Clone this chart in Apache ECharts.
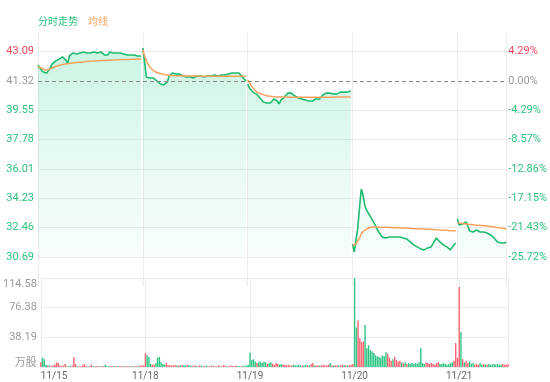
<!DOCTYPE html>
<html><head><meta charset="utf-8">
<script src="https://cdn.jsdelivr.net/npm/echarts@6/dist/echarts.min.js"></script>
<style>html,body{margin:0;padding:0;background:#fff}#c{width:550px;height:382px}</style>
</head><body><div id="c"></div>
<script>
// ---------------- data ----------------
const days = ['11/15', '11/18', '11/19', '11/20', '11/21'];
const prevClose = 41.32;
const priceTickLabels = ['30.69', '32.46', '34.23', '36.01', '37.78', '39.55', '41.32', '43.09'];
const pctTickLabels = ['-25.72%', '-21.43%', '-17.15%', '-12.86%', '-8.57%', '-4.29%', '0.00%', '4.29%'];
const volTickLabels = ['万股', '38.19', '76.38', '114.58'];

const price1115 = [42.27,42.09,41.97,41.85,41.85,41.79,41.91,42.09,42.33,42.45,
  42.51,42.57,42.63,42.69,42.76,42.82,42.57,42.39,42.82,42.94,
  43.00,42.88,42.94,42.94,43.00,43.00,43.06,42.94,43.00,43.06,
  43.00,43.06,43.06,43.06,43.00,43.00,43.06,42.94,42.88,42.76,
  42.88,43.06,43.00,43.00,42.94,43.00,43.00,43.00,42.94,42.94,
  42.94,42.88,42.94,42.88,42.88,42.88,42.82,42.82,42.82,42.82];
const price1118 = [43.30,42.45,41.55,41.43,41.49,41.55,41.49,41.43,41.31,41.19,
  41.13,41.07,41.07,41.13,41.25,41.61,41.73,41.79,41.73,41.73,
  41.67,41.73,41.67,41.61,41.61,41.55,41.49,41.55,41.55,41.49,
  41.55,41.61,41.55,41.61,41.61,41.55,41.61,41.61,41.67,41.61,
  41.61,41.67,41.67,41.61,41.67,41.67,41.73,41.67,41.67,41.73,
  41.73,41.79,41.85,41.79,41.73,41.79,41.67,41.55,41.43,41.31];
const price1119 = [41.13,40.89,40.77,40.64,40.70,40.52,40.40,40.28,40.16,40.04,
  40.10,39.98,39.92,39.98,40.10,40.22,40.28,40.10,39.92,40.16,
  40.28,40.34,40.46,40.58,40.64,40.58,40.46,40.40,40.34,40.28,
  40.28,40.22,40.16,40.16,40.10,40.10,40.16,40.10,40.16,40.22,
  40.16,40.22,40.34,40.46,40.52,40.58,40.52,40.58,40.46,40.52,
  40.58,40.52,40.58,40.64,40.58,40.64,40.58,40.64,40.70,40.70];
const price1120 = [31.48,30.99,31.72,32.44,33.65,34.79,34.43,33.83,33.53,33.35,
  33.23,32.99,32.80,32.62,32.38,32.20,32.08,31.90,31.84,31.84,
  31.90,31.90,31.84,31.90,31.90,31.90,31.96,31.90,31.90,31.84,
  31.84,31.78,31.72,31.60,31.48,31.42,31.36,31.30,31.24,31.18,
  31.12,31.12,31.18,31.24,31.24,31.30,31.42,31.66,31.84,31.72,
  31.60,31.48,31.42,31.36,31.30,31.18,31.12,31.24,31.42,31.54];
const price1121 = [32.99,32.62,32.74,32.68,32.68,32.80,32.56,32.26,32.20,32.20,
  32.26,32.32,32.26,32.20,32.26,32.20,32.20,32.14,32.08,32.02,
  31.90,31.84,31.72,31.60,31.54,31.54,31.54,31.54,31.60];

const avg1115 = [42.15,42.12,42.09,42.03,41.97,41.98,42.00,42.05,42.09,42.14,
  42.18,42.21,42.24,42.27,42.30,42.32,42.33,42.35,42.36,42.38,
  42.39,42.40,42.42,42.43,42.44,42.45,42.46,42.47,42.48,42.49,
  42.50,42.51,42.51,42.52,42.53,42.53,42.54,42.54,42.55,42.55,
  42.56,42.56,42.57,42.57,42.58,42.59,42.59,42.59,42.60,42.60,
  42.60,42.61,42.61,42.61,42.62,42.62,42.62,42.63,42.63,42.63];
const avg1118 = [43.18,42.82,42.51,42.33,42.15,42.03,41.94,41.88,41.82,41.79,
  41.76,41.73,41.70,41.67,41.67,41.65,41.64,41.64,41.63,41.63,
  41.62,41.62,41.62,41.62,41.61,41.61,41.61,41.61,41.61,41.61,
  41.61,41.61,41.61,41.60,41.60,41.60,41.60,41.60,41.60,41.60,
  41.60,41.60,41.60,41.60,41.60,41.59,41.59,41.59,41.59,41.59,
  41.59,41.59,41.59,41.59,41.59,41.59,41.59,41.59,41.59,41.59];
const avg1119 = [41.37,41.19,41.04,40.89,40.77,40.67,40.61,40.55,40.51,40.48,
  40.45,40.42,40.40,40.39,40.37,40.36,40.36,40.35,40.35,40.34,
  40.34,40.34,40.34,40.34,40.34,40.33,40.33,40.33,40.33,40.33,
  40.33,40.33,40.33,40.33,40.33,40.33,40.33,40.33,40.33,40.33,
  40.33,40.33,40.33,40.33,40.33,40.33,40.33,40.33,40.34,40.34,
  40.34,40.34,40.34,40.34,40.34,40.34,40.34,40.34,40.34,40.34];
const avg1120 = [31.42,31.30,31.48,31.66,31.84,32.08,32.23,32.32,32.38,32.44,
  32.47,32.50,32.50,32.50,32.50,32.49,32.49,32.49,32.48,32.48,
  32.48,32.48,32.47,32.47,32.46,32.46,32.45,32.45,32.44,32.44,
  32.44,32.43,32.43,32.42,32.41,32.41,32.40,32.40,32.39,32.38,
  32.38,32.37,32.37,32.36,32.36,32.35,32.35,32.34,32.33,32.33,
  32.32,32.32,32.31,32.31,32.30,32.29,32.28,32.27,32.27,32.26];
const avg1121 = [32.74,32.73,32.72,32.71,32.70,32.68,32.67,32.66,32.65,32.64,
  32.62,32.61,32.61,32.60,32.59,32.58,32.57,32.56,32.55,32.54,
  32.52,32.51,32.49,32.48,32.46,32.44,32.42,32.40,32.38];

const vol1115 = [6,12,10,3,2,2,1,2,3,6, 5,2,1,2,4,1,1,1,2,13,
  4,1,1,1,2,4,1,1,1,3, 1,1,1,1,1,1,1,3,1,1,
  1,1,1,1,1,1,1,1,1,1, 1,1,1,1,1,1,1,2,2,2];
const vol1118 = [18,15,13,4,3,3,5,12,13,6, 4,3,5,3,2,2,2,3,2,2,
  2,3,2,2,3,2,2,1,2,2, 1,2,2,1,1,2,1,1,2,1,
  1,1,2,1,1,3,1,1,1,2, 1,1,2,1,1,1,2,1,2,3];
const vol1119 = [18,9,10,7,5,6,7,5,7,6, 4,5,6,4,3,5,4,3,4,3,
  3,2,3,2,2,3,2,2,3,2, 2,2,3,2,2,4,5,2,2,2,
  2,2,3,2,2,3,5,2,2,2, 2,2,2,3,2,2,2,2,3,4];
const vol1120 = [114.58,51,60,37,32,33,54,24,28,22, 20,18,15,14,13,12,15,14,19,17,
  12,8,10,13,9,7,8,6,5,6, 4,5,4,5,4,5,4,6,24,5,
  4,6,5,4,5,4,3,5,6,4, 4,5,4,3,4,5,6,8,31,12];
const vol1121 = [103,45,10,6,8,5,7,4,5,3, 4,3,5,3,4,3,3,4,3,3,
  4,3,4,3,3,4,3,3,4];

// ---------------- build ----------------
const priceDays = [price1115, price1118, price1119, price1120, price1121];
const avgDays = [avg1115, avg1118, avg1119, avg1120, avg1121];
const volDays = [vol1115, vol1118, vol1119, vol1120, vol1121];

const categories = [];
const dayStart = [];
priceDays.forEach((arr, k) => {
  dayStart.push(categories.length);
  arr.forEach((_, j) => categories.push(days[k] + ' ' + j));
});
const N = categories.length;
const allPrice = [].concat(...priceDays);
const allVol = [].concat(...volDays);
const toPct = p => (p / prevClose - 1) * 100;

function dayData(arrs, k) {
  const out = new Array(N).fill(null);
  arrs[k].forEach((v, j) => { out[dayStart[k] + j] = toPct(v); });
  return out;
}

const GREEN_LINE = '#1dba6f';
const ORANGE = '#f6a25c';
const RED_TXT = '#f2495c';
const GREEN_TXT = '#2ec27e';
const GRAY_TXT = '#9a9a9a';
const GRID_LINE = '#ececec';
const CLEAR = 'rgba(0,0,0,0)';

const STEP = 30 / 7;            // one label step, in percent
const PCT_MIN = -7 * STEP;      // multiple of STEP (ticks counted from min)
const PCT_MAX = 6.98;
function pctIndex(v) {
  const k = Math.round(v / STEP);
  return Math.abs(v - k * STEP) < 1e-3 ? k + 6 : -1;
}
const pctColor = v => Math.abs(v) < 1e-6 ? GRAY_TXT : (v > 0 ? RED_TXT : GREEN_TXT);
const VSTEP = 114.58 / 3;

const chart = echarts.init(document.getElementById('c'), null, { renderer: 'canvas' });

const series = [];
priceDays.forEach((_, k) => {
  series.push({
    name: '分时走势', type: 'line', xAxisIndex: 0, yAxisIndex: 0,
    data: dayData(priceDays, k), showSymbol: false, symbol: 'none',
    connectNulls: false, z: 3,
    lineStyle: { color: GREEN_LINE, width: 1.6 },
    itemStyle: { color: GREEN_LINE },
    areaStyle: {
      origin: -6 * STEP,
      color: new echarts.graphic.LinearGradient(0, 33, 0, 257, [
        { offset: 0, color: 'rgba(46,214,140,0.38)' },
        { offset: 0.6, color: 'rgba(46,214,140,0.16)' },
        { offset: 1, color: 'rgba(46,214,140,0.05)' }
      ], true)
    },
    markLine: k === 0 ? {
      silent: true, symbol: 'none', label: { show: false },
      lineStyle: { color: '#8a8a8a', type: [4, 3], width: 1 },
      data: [{ yAxis: 0 }]
    } : undefined
  });
});
avgDays.forEach((_, k) => {
  series.push({
    name: '均线', type: 'line', xAxisIndex: 0, yAxisIndex: 0,
    data: dayData(avgDays, k), showSymbol: false, symbol: 'none', z: 4,
    lineStyle: { color: ORANGE, width: 1.5 },
    itemStyle: { color: ORANGE }
  });
});
series.push({
  name: '成交量', type: 'bar', xAxisIndex: 1, yAxisIndex: 2,
  barWidth: 1.4,
  data: allVol.map((v, i) => ({
    value: v,
    itemStyle: { color: (i === 0 || allPrice[i] >= allPrice[i - 1]) ? '#f7646f' : '#2ec584' }
  }))
});

const splitInterval = (i) => dayStart.indexOf(i) >= 0 || i === N - 1;
// ticks: -30, -25.71, ..., 0 (dashed markLine instead), 4.29, max
const priceSplitColors = [CLEAR, GRID_LINE, GRID_LINE, GRID_LINE, GRID_LINE, GRID_LINE, GRID_LINE, CLEAR, GRID_LINE, CLEAR];

chart.setOption({
  animation: false,
  textStyle: { fontFamily: 'Roboto, "Noto Sans CJK SC", sans-serif' },
  legend: {
    left: 33, top: 18, padding: 0, icon: 'none', itemWidth: 0, itemHeight: 0, itemGap: 5,
    textStyle: { fontSize: 10 },
    data: [
      { name: '分时走势', textStyle: { color: GREEN_TXT } },
      { name: '均线', textStyle: { color: ORANGE } }
    ],
    selectedMode: false
  },
  grid: [
    { left: 38, right: 42, top: 33, height: 253.3 },
    { left: 38, right: 42, top: 278, height: 89 }
  ],
  xAxis: [
    {
      type: 'category', gridIndex: 0, data: categories, boundaryGap: false,
      axisLine: { show: false }, axisTick: { show: false }, axisLabel: { show: false },
      splitLine: { show: true, interval: splitInterval, lineStyle: { color: GRID_LINE, width: 1 } }
    },
    {
      type: 'category', gridIndex: 1, data: categories, boundaryGap: false,
      axisLine: { show: false }, axisTick: { show: false },
      axisLabel: {
        show: true, interval: (i) => dayStart.indexOf(i) >= 0,
        formatter: (v) => v.split(' ')[0],
        fontSize: 10, color: '#666', margin: 4, alignMinLabel: 'left'
      },
      splitLine: { show: true, interval: splitInterval, lineStyle: { color: GRID_LINE, width: 1 } }
    }
  ],
  yAxis: [
    {
      type: 'value', gridIndex: 0, position: 'left',
      min: PCT_MIN, max: PCT_MAX, interval: STEP,
      axisLine: { show: false }, axisTick: { show: false },
      axisLabel: {
        fontSize: 11, margin: 4,
        formatter: (v) => { const i = pctIndex(v); return i >= 0 && i < priceTickLabels.length ? priceTickLabels[i] : ''; },
        color: (v) => pctColor(v)
      },
      splitLine: { show: true, lineStyle: { color: priceSplitColors, width: 1 } }
    },
    {
      type: 'value', gridIndex: 0, position: 'right',
      min: PCT_MIN, max: PCT_MAX, interval: STEP,
      axisLine: { show: false }, axisTick: { show: false },
      axisLabel: {
        fontSize: 11, margin: 2,
        formatter: (v) => { const i = pctIndex(v); return i >= 0 && i < pctTickLabels.length ? pctTickLabels[i] : ''; },
        color: (v) => pctColor(v)
      },
      splitLine: { show: false }
    },
    {
      type: 'value', gridIndex: 1, position: 'left',
      min: 0, max: 114.58, interval: VSTEP,
      axisLine: { show: false }, axisTick: { show: false },
      axisLabel: {
        fontSize: 11, margin: 4, color: GRAY_TXT,
        formatter: (v) => {
          const k = Math.round(v / VSTEP);
          const s = volTickLabels[k] || '';
          if (k === 0) return '{b|' + s + '}';
          if (k === 3) return '{t|' + s + '}';
          return s;
        },
        rich: {
          b: { color: GRAY_TXT, fontSize: 11, padding: [0, 0, 8, 0] },
          t: { color: GRAY_TXT, fontSize: 11, padding: [12, 0, 0, 0] }
        }
      },
      splitLine: { show: true, lineStyle: { color: GRID_LINE, width: 1 } }
    }
  ],
  series: series
});
</script>
</body></html>
